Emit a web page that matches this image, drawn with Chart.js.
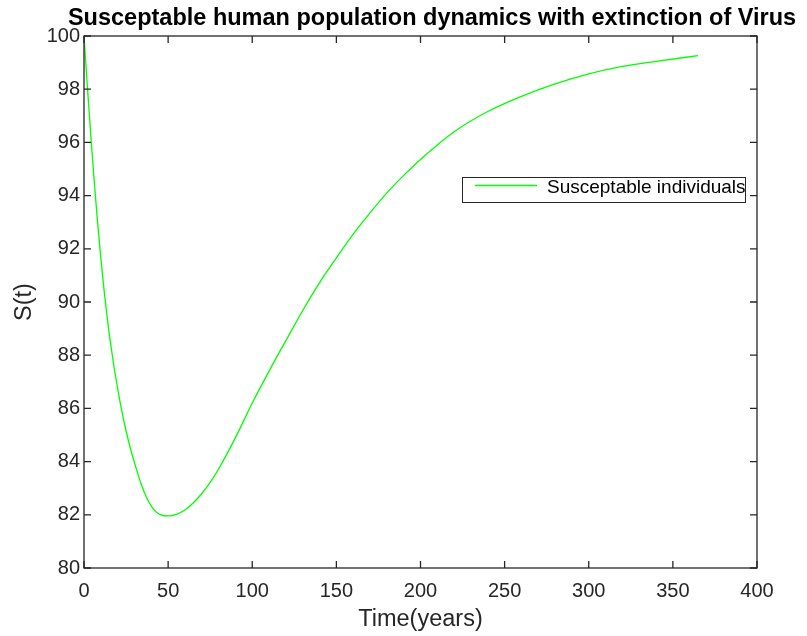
<!DOCTYPE html>
<html>
<head>
<meta charset="utf-8">
<script src="https://cdn.jsdelivr.net/npm/chart.js@4.4.1/dist/chart.umd.min.js"></script>
<style>
  html, body { margin: 0; padding: 0; background: #fff; }
  #wrap { width: 807px; height: 636px; }
</style>
</head>
<body>
<div id="wrap"><canvas id="myChart" width="807" height="636"></canvas></div>
<script>
// data
const timeYears = [0, 2, 4, 6, 8, 10, 12, 14, 16, 18, 20, 22, 25, 28, 31, 34, 37, 40, 43, 46, 50, 55, 60, 65, 70, 75, 80, 90, 100, 110, 120, 130, 140, 150, 160, 170, 180, 190, 200, 220, 240, 260, 280, 300, 320, 340, 365];
const susceptible = [100, 98.1, 96.3, 94.6, 93.05, 91.65, 90.4, 89.3, 88.35, 87.5, 86.75, 86.05, 85.15, 84.4, 83.75, 83.15, 82.68, 82.33, 82.1, 81.99, 81.96, 82.02, 82.18, 82.45, 82.8, 83.22, 83.72, 84.9, 86.2, 87.4, 88.55, 89.68, 90.73, 91.66, 92.55, 93.35, 94.1, 94.76, 95.36, 96.4, 97.16, 97.73, 98.2, 98.58, 98.86, 99.05, 99.26];
const xTicks = [0, 50, 100, 150, 200, 250, 300, 350, 400];
const yTicks = [80, 82, 84, 86, 88, 90, 92, 94, 96, 98, 100];

const chartTitle = "Susceptable human population dynamics with extinction of Virus";
const seriesLabel = "Susceptable individuals";
const axisColor = "#262626";
const fontFamily = "'Liberation Sans', Arial, Helvetica, sans-serif";

// box, inner ticks, title and legend (matlab style)
const matlabFrame = {
  id: "matlabFrame",
  afterDraw(chart) {
    const ctx = chart.ctx;
    const a = chart.chartArea;
    const xs = chart.scales.x, ys = chart.scales.y;
    ctx.save();
    ctx.strokeStyle = axisColor;
    ctx.lineWidth = 1.3;
    ctx.strokeRect(a.left, a.top, a.right - a.left, a.bottom - a.top);
    const tl = 7;
    ctx.beginPath();
    xTicks.forEach(v => {
      const px = xs.getPixelForValue(v);
      ctx.moveTo(px, a.bottom); ctx.lineTo(px, a.bottom - tl);
      ctx.moveTo(px, a.top); ctx.lineTo(px, a.top + tl);
    });
    yTicks.forEach(v => {
      const py = ys.getPixelForValue(v);
      ctx.moveTo(a.left, py); ctx.lineTo(a.left + tl, py);
      ctx.moveTo(a.right, py); ctx.lineTo(a.right - tl, py);
    });
    ctx.stroke();

    // title
    ctx.fillStyle = "#000";
    ctx.font = "bold 23.5px " + fontFamily;
    ctx.textAlign = "center";
    ctx.textBaseline = "alphabetic";
    ctx.fillText(chartTitle, 432, 25);

    // legend
    const lx = 462, ly = 177, lw = 283, lh = 25;
    ctx.fillStyle = "#fff";
    ctx.fillRect(lx, ly, lw, lh);
    ctx.strokeStyle = axisColor;
    ctx.lineWidth = 1;
    ctx.strokeRect(lx + 0.5, ly + 0.5, lw, lh);
    ctx.strokeStyle = "#00ff00";
    ctx.lineWidth = 1.3;
    ctx.beginPath();
    ctx.moveTo(lx + 13, ly + 8.5); ctx.lineTo(lx + 75, ly + 8.5);
    ctx.stroke();
    ctx.fillStyle = "#000";
    ctx.font = "19px " + fontFamily;
    ctx.textAlign = "left";
    ctx.textBaseline = "alphabetic";
    ctx.fillText(seriesLabel, lx + 85, ly + 16);
    ctx.restore();
  }
};

const data = {
  datasets: [{
    label: seriesLabel,
    data: timeYears.map((t, i) => ({ x: t, y: susceptible[i] })),
    borderColor: "#00ff00",
    borderWidth: 1.3,
    pointRadius: 0,
    fill: false,
    cubicInterpolationMode: "monotone"
  }]
};

const config = {
  type: "line",
  data,
  options: {
    responsive: false,
    animation: false,
    layout: { padding: { left: 0, right: 50, top: 36, bottom: 0 } },
    plugins: {
      legend: { display: false },
      title: { display: false },
      tooltip: { enabled: false }
    },
    scales: {
      x: {
        type: "linear",
        min: 0,
        max: 400,
        afterBuildTicks: (s) => { s.ticks = xTicks.map(v => ({ value: v })); },
        afterFit: (s) => { s.height = 68; },
        grid: { display: false, drawTicks: false },
        border: { display: false },
        ticks: { color: axisColor, padding: 11, maxRotation: 0, font: { size: 20, family: fontFamily } },
        title: { display: true, text: "Time(years)", color: axisColor, padding: { top: 0, bottom: 2 }, font: { size: 23.5, family: fontFamily } }
      },
      y: {
        min: 80,
        max: 100,
        afterBuildTicks: (s) => { s.ticks = yTicks.map(v => ({ value: v })); },
        afterFit: (s) => { s.width = 84; },
        grid: { display: false, drawTicks: false },
        border: { display: false },
        ticks: { color: axisColor, padding: 4, font: { size: 20, family: fontFamily } },
        title: { display: true, text: "S(t)", color: axisColor, padding: { top: 10, bottom: 0 }, font: { size: 23.5, family: fontFamily } }
      }
    }
  },
  plugins: [matlabFrame]
};

const myChart = new Chart(document.getElementById("myChart"), config);
</script>
</body>
</html>
